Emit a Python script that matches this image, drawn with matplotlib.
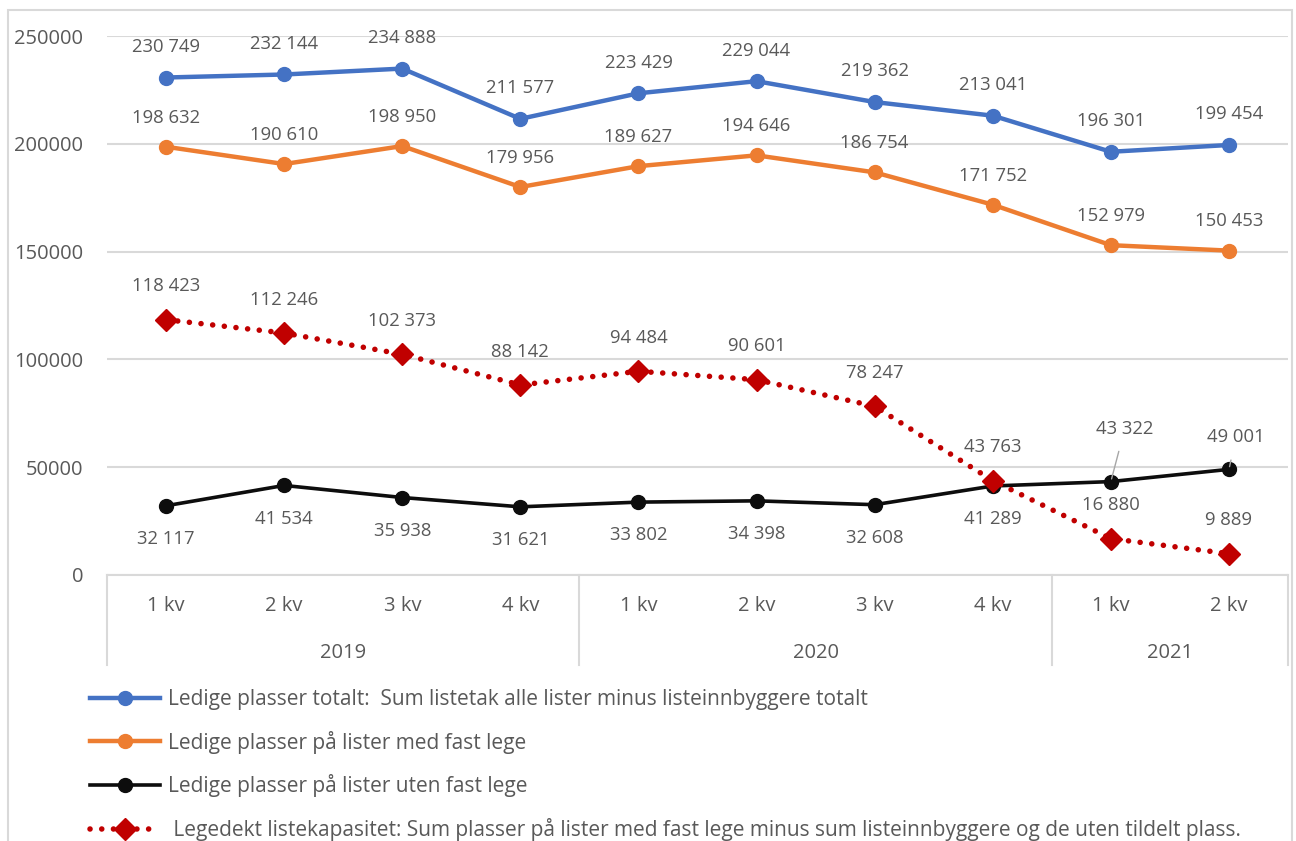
import numpy as np
import matplotlib.pyplot as plt
from matplotlib.transforms import blended_transform_factory
from matplotlib.patches import Rectangle
from matplotlib.lines import Line2D

plt.rcParams['font.family'] = ['Open Sans', 'DejaVu Sans']

# Data
quarters = ['1 kv', '2 kv', '3 kv', '4 kv', '1 kv', '2 kv', '3 kv', '4 kv', '1 kv', '2 kv']
years = ['2019', '2020', '2021']
year_span = [4, 4, 2]

totalt = [230749, 232144, 234888, 211577, 223429, 229044, 219362, 213041, 196301, 199454]
med_fast = [198632, 190610, 198950, 179956, 189627, 194646, 186754, 171752, 152979, 150453]
uten_fast = [32117, 41534, 35938, 31621, 33802, 34398, 32608, 41289, 43322, 49001]
legedekt = [118423, 112246, 102373, 88142, 94484, 90601, 78247, 43763, 16880, 9889]

labels = ['Ledige plasser totalt:  Sum listetak alle lister minus listeinnbyggere totalt',
          'Ledige plasser på lister med fast lege',
          'Ledige plasser på lister uten fast lege',
          ' Legedekt listekapasitet: Sum plasser på lister med fast lege minus sum listeinnbyggere og de uten tildelt plass.']

blue, orange, black, red = '#4472C4', '#ED7D31', '#0D0D0D', '#C00000'
txt = '#595959'
grid = '#D9D9D9'

W, H = 1296, 841
fig = plt.figure(figsize=(W / 100, H / 100), dpi=100)
# chart frame
fig.patches.append(Rectangle((8 / W, -0.1), 1284 / W, 1.1 - 10 / H, transform=fig.transFigure,
                             fill=False, edgecolor=grid, lw=1.5))

x0, x1, ytop, ybot = 107, 1288, 36, 575
ax = fig.add_axes([x0 / W, 1 - ybot / H, (x1 - x0) / W, (ybot - ytop) / H])
x = np.arange(len(quarters))

ax.plot(x, totalt, color=blue, lw=3.2, marker='o', ms=10, solid_capstyle='round', zorder=3)
ax.plot(x, med_fast, color=orange, lw=3.2, marker='o', ms=10, solid_capstyle='round', zorder=3)
ax.plot(x, uten_fast, color=black, lw=2.6, marker='o', ms=10, solid_capstyle='round', zorder=3)
ax.plot(x, legedekt, color=red, lw=4, linestyle=(0, (0.01, 2.1)), dash_capstyle='round',
        marker='D', ms=11, zorder=4)

ax.set_xlim(-0.5, len(quarters) - 0.5)
ax.set_ylim(0, 250000)
ax.set_yticks(np.arange(0, 250001, 50000))
ax.yaxis.grid(True, color=grid, lw=1.5)
ax.set_axisbelow(True)
for s in ax.spines.values():
    s.set_visible(False)
ax.set_xticks([])
ax.tick_params(axis='y', length=0, pad=17, labelsize=14.5, labelcolor=txt)

def fmt(v):
    return f'{v:,}'.replace(',', ' ')

def lab(xi, v, dy, dx=0):
    ax.annotate(fmt(v), (xi, v), xytext=(dx, dy), textcoords='offset points',
                ha='center', va='center', fontsize=13.3, color=txt)

for i in range(len(x)):
    lab(i, totalt[i], 22)
    lab(i, med_fast[i], 21)
    lab(i, legedekt[i], 24)
    if i < 8:
        lab(i, uten_fast[i], -24)

# labels with leader lines
for i, (dx, dy) in zip([8, 9], [(10, 38), (5, 23)]):
    ax.annotate(fmt(uten_fast[i]), (i, uten_fast[i]), xytext=(dx, dy), textcoords='offset points',
                ha='center', va='center', fontsize=13.3, color=txt,
                arrowprops=dict(arrowstyle='-', color='#A6A6A6', lw=1, shrinkA=8, shrinkB=2))

# category axis with year groups
tr = blended_transform_factory(ax.transData, ax.transAxes)
axh = ybot - ytop
ylow = -(665 - ybot) / axh
ax.plot([-0.5, len(quarters) - 0.5], [0, 0], transform=tr, color=grid, lw=1.5, clip_on=False)
for i, q in enumerate(quarters):
    ax.text(i, -(606 - ybot) / axh, q, transform=tr, ha='center', va='center', fontsize=14.5, color=txt)
edges = np.concatenate([[0], np.cumsum(year_span)]) - 0.5
for e in edges:
    ax.plot([e, e], [0, ylow], transform=tr, color=grid, lw=1.5, clip_on=False)
for yr, a, b in zip(years, edges[:-1], edges[1:]):
    ax.text((a + b) / 2, -(653 - ybot) / axh, yr, transform=tr, ha='center', va='center',
            fontsize=14.5, color=txt)

# legend
handles = [Line2D([], [], color=blue, lw=3.2, marker='o', ms=10),
           Line2D([], [], color=orange, lw=3.2, marker='o', ms=10),
           Line2D([], [], color=black, lw=2.6, marker='o', ms=10),
           Line2D([], [], color=red, lw=4, linestyle=(0, (0.01, 2.1)), dash_capstyle='round',
                  marker='D', ms=11)]
leg = fig.legend(handles, labels, loc='upper left', bbox_to_anchor=(90 / W, 1 - 689 / H),
                 frameon=False, fontsize=15, handlelength=3.36, handletextpad=0.38,
                 labelspacing=0.99, borderpad=0, borderaxespad=0)
for t in leg.get_texts():
    t.set_color(txt)

fig.savefig('out.png', dpi=100)
